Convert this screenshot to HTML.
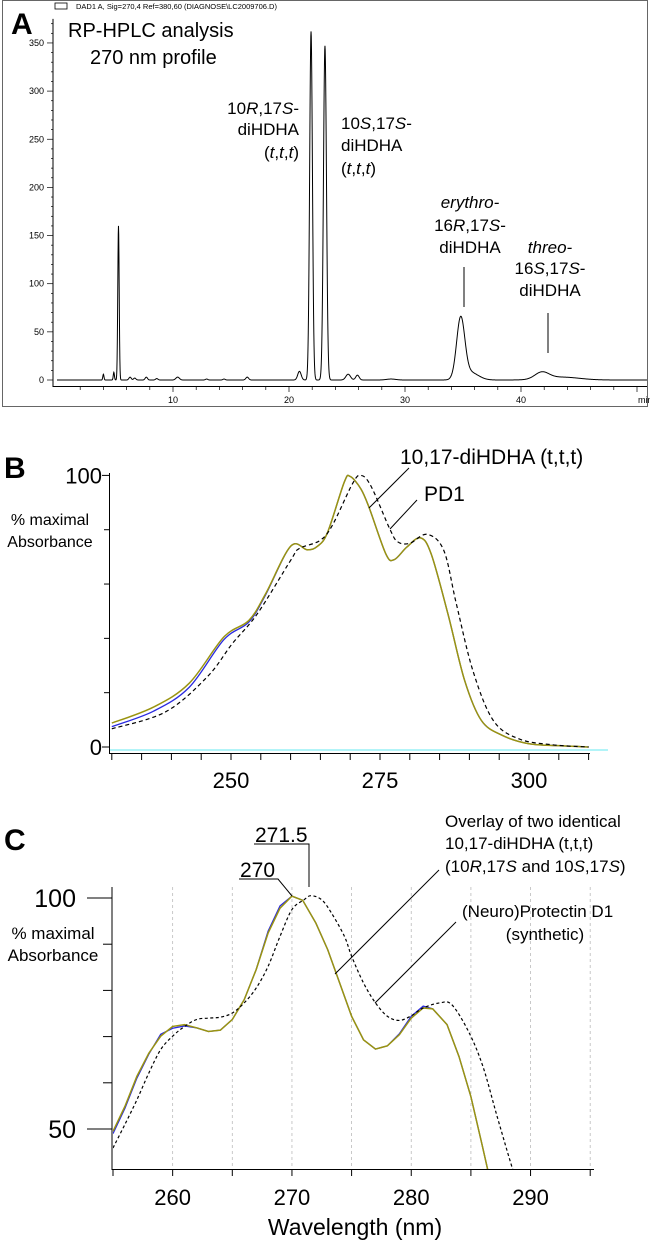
<!DOCTYPE html>
<html><head><meta charset="utf-8">
<style>
html,body{margin:0;padding:0;background:#fff;}
svg{display:block;font-family:"Liberation Sans",sans-serif;}
</style></head>
<body>
<svg id="fig" width="650" height="1241" viewBox="0 0 650 1241" xmlns="http://www.w3.org/2000/svg">
<defs>
<clipPath id="clipC"><rect x="113" y="870" width="500" height="299"/></clipPath>
</defs>
<!-- Panel A -->
<g id="panelA">
<rect x="2.5" y="0.5" width="645" height="406" fill="none" stroke="#666" stroke-width="1"/>
<rect x="55" y="3" width="12" height="6" fill="none" stroke="#000" stroke-width="0.8"/>
<text x="76" y="9" font-size="7.5">DAD1 A, Sig=270,4 Ref=380,60 (DIAGNOSE\LC2009706.D)</text>
<text x="11" y="34" font-size="30" font-weight="bold">A</text>
<text x="68" y="37" font-size="20">RP-HPLC analysis</text>
<text x="90" y="64" font-size="20">270 nm profile</text>
<g id="axA"></g>
<path id="chromA" fill="none" stroke="#000" stroke-width="1"/>
<g font-size="17">
<text x="299" y="114" text-anchor="end">10<tspan font-style="italic">R</tspan>,17<tspan font-style="italic">S</tspan>-</text>
<text x="299" y="135" text-anchor="end">diHDHA</text>
<text x="299" y="158" text-anchor="end">(<tspan font-style="italic">t</tspan>,<tspan font-style="italic">t</tspan>,<tspan font-style="italic">t</tspan>)</text>
<text x="341" y="129">10<tspan font-style="italic">S</tspan>,17<tspan font-style="italic">S</tspan>-</text>
<text x="341" y="151">diHDHA</text>
<text x="341" y="174">(<tspan font-style="italic">t</tspan>,<tspan font-style="italic">t</tspan>,<tspan font-style="italic">t</tspan>)</text>
<text x="470" y="208" text-anchor="middle" font-style="italic">erythro-</text>
<text x="470" y="231" text-anchor="middle">16<tspan font-style="italic">R</tspan>,17<tspan font-style="italic">S</tspan>-</text>
<text x="470" y="253" text-anchor="middle">diHDHA</text>
<text x="550" y="253" text-anchor="middle" font-style="italic">threo-</text>
<text x="550" y="274" text-anchor="middle">16<tspan font-style="italic">S</tspan>,17<tspan font-style="italic">S</tspan>-</text>
<text x="550" y="296" text-anchor="middle">diHDHA</text>
</g>
<line x1="464" y1="267" x2="464" y2="307" stroke="#000"/>
<line x1="548" y1="313" x2="548" y2="353" stroke="#000"/>
</g>

<!-- Panel B -->
<g id="panelB">
<text x="4" y="478" font-size="30" font-weight="bold">B</text>
<text x="50" y="525" font-size="16" text-anchor="middle">% maximal</text>
<text x="50" y="547" font-size="16" text-anchor="middle">Absorbance</text>
<g id="axB"></g>
<path id="bBlue" fill="none" stroke="#2a2ae0" stroke-width="1.3"/>
<path id="bOlive" fill="none" stroke="#9a9410" stroke-width="1.5"/>
<path id="bDash" fill="none" stroke="#000" stroke-width="1.2" stroke-dasharray="4,3"/>
<text x="400" y="464" font-size="21">10,17-diHDHA (t,t,t)</text>
<text x="424" y="501" font-size="21">PD1</text>
<line x1="409" y1="468" x2="369" y2="508" stroke="#000"/>
<line x1="417" y1="500" x2="390" y2="529" stroke="#000"/>
</g>

<!-- Panel C -->
<g id="panelC">
<text x="4" y="850" font-size="30" font-weight="bold">C</text>
<text x="53" y="939" font-size="17" text-anchor="middle">% maximal</text>
<text x="53" y="961" font-size="17" text-anchor="middle">Absorbance</text>
<g id="axC"></g>
<g clip-path="url(#clipC)">
<path id="cBlue" fill="none" stroke="#2a2ae0" stroke-width="1.3"/>
<path id="cOlive" fill="none" stroke="#9a9410" stroke-width="1.5"/>
<path id="cDash" fill="none" stroke="#000" stroke-width="1.2" stroke-dasharray="3,2.5"/>
</g>
<text x="355" y="1235" font-size="23" text-anchor="middle">Wavelength (nm)</text>
<text x="255" y="842" font-size="21">271.5</text>
<polyline points="254,844 309,844 309,887" fill="none" stroke="#000"/>
<text x="240" y="877" font-size="21">270</text>
<polyline points="239,879 278,879 292,896" fill="none" stroke="#000"/>
<g font-size="17">
<text x="445" y="827">Overlay of two identical</text>
<text x="445" y="849">10,17-diHDHA (t,t,t)</text>
<text x="445" y="872">(10<tspan font-style="italic">R</tspan>,17<tspan font-style="italic">S</tspan> and 10<tspan font-style="italic">S</tspan>,17<tspan font-style="italic">S</tspan>)</text>
<text x="462" y="917">(Neuro)Protectin D1</text>
<text x="545" y="940" text-anchor="middle">(synthetic)</text>
</g>
<line x1="439" y1="870" x2="335" y2="974" stroke="#000"/>
<line x1="456" y1="922" x2="375" y2="1003" stroke="#000"/>
</g>
</svg>
<script>
// ---------- Panel A data ----------
const peakTimes   = [4.0,4.9,5.3,6.3,6.7,7.7,8.6,10.4,12.9,14.4,16.4,20.9,21.9,23.1,25.1,25.9,28.8,34.8,35.6,41.8,43.5];
const peakHeights = [6,8,160,3,2,3,1.5,3,1,1,3,9,362,347,6,5,1,62,8,7,3];
const peakWidths  = [0.05,0.05,0.06,0.1,0.1,0.1,0.1,0.15,0.1,0.1,0.12,0.15,0.12,0.13,0.2,0.15,0.4,0.35,0.7,0.6,1.5];
const aTicksY = [0,50,100,150,200,250,300,350];
const aTicksX = [10,20,30,40];
// ---------- Panel B data ----------
const bOliveNm  = [230,237,243,248.8,253,255.8,260,262.8,264.5,266.2,269,270,271.8,273.2,276,277.4,279.5,281.8,283.6,286.4,289.2,292,295.5,300,305,310];
const bOliveVal = [8.8,14.7,23.5,40.5,46.6,56.4,73.9,72.6,73.9,79,97.5,99.6,95,88,71,69,73.6,77,71,49,24.5,9.8,4.3,1.2,0.5,0];
const bBlueVal  = [7.5,13.2,22,39.5,46,56,73.9,72.6,73.9,79,97.5,99.6,95,88,71,69,73.6,77,71,49,24.5,9.8,4.3,1.2,0.5,0];
const bDashNm   = [230,239,246,250.2,254.4,260,261.4,264.9,267,270.4,271.8,273.5,276.7,278,280,282.9,285.7,287.8,290.6,294,298.3,304,310];
const bDashVal  = [6.7,12.9,25.8,38,49,68.7,73,76,81.6,97,100,96,80,75.5,75,78.3,72.4,52.8,28,9.8,3,0.8,0];
const bTicksX = [250,275,300];
// ---------- Panel C data ----------
const cOliveNm  = [255,256,257,258,259,260,261,262,263,264,265,266,267,268,269,270,270.9,272,273,274,275,276,277,278,279,280,281,281.8,283,284,285,285.9,286.4,287];
const cOliveVal = [49.5,54.9,61.4,66.4,70.1,72.2,72.6,71.9,71.1,71.4,73.7,78,84.5,92.4,97.8,100.4,99.5,94.6,88.8,81.6,74.4,69.3,67.3,68,70.4,74,76.2,76,72.6,65.7,57,47,41.3,37];
const cBlueVal  = [49,54.5,61,66.2,70.5,71.8,72.3,71.9,71.1,71.4,73.7,78,84.5,92.8,98.3,100.4,99.5,94.6,88.8,81.6,74.4,69.3,67.3,68,70.6,74.4,76.6,76,72.6,65.7,57,47,41.3,37];
const cDashNm   = [255,256,257,258,259,260,261,262,263,264,265,266,267,268,269,270,271,271.6,272.5,273.3,274.4,275,276,277,278,279,280,281,282.4,283.4,284.8,286,287.2,288.5,289];
const cDashVal  = [45.9,51,56.3,62.1,67.2,70.1,72.2,73.7,74,74.2,75.1,77.3,80.5,85.2,91.7,97.5,99.6,100.5,99.6,96.8,91.7,87.4,81.6,77.3,74.4,73.5,74.5,76.2,77.3,76.9,71.1,63.6,52.7,41.3,38];
const cTicksX = [260,270,280,290];

const NS = "http://www.w3.org/2000/svg";
function mk(parent, tag, attrs, text){
  const el = document.createElementNS(NS, tag);
  for (const k in attrs) el.setAttribute(k, attrs[k]);
  if (text !== undefined) el.textContent = text;
  parent.appendChild(el);
  return el;
}
function pathFrom(xs, ys, sx, sy){
  return xs.map((x,i)=>(i?'L':'M')+sx(x).toFixed(2)+','+sy(ys[i]).toFixed(2)).join('');
}
function smoothFrom(xs, ys, sx, sy){
  const P = xs.map((x,i)=>[sx(x), sy(ys[i])]);
  let d = 'M'+P[0][0].toFixed(2)+','+P[0][1].toFixed(2);
  for (let i=0;i<P.length-1;i++){
    const p0=P[Math.max(0,i-1)], p1=P[i], p2=P[i+1], p3=P[Math.min(P.length-1,i+2)];
    const c1=[p1[0]+(p2[0]-p0[0])/6, p1[1]+(p2[1]-p0[1])/6];
    const c2=[p2[0]-(p3[0]-p1[0])/6, p2[1]-(p3[1]-p1[1])/6];
    d+='C'+c1[0].toFixed(2)+','+c1[1].toFixed(2)+' '+c2[0].toFixed(2)+','+c2[1].toFixed(2)+' '+p2[0].toFixed(2)+','+p2[1].toFixed(2);
  }
  return d;
}

// ---------- Panel A ----------
const axA = (t)=>57 + t*11.6;
const ayA = (v)=>380 - v*0.963;
(function(){
  const g = document.getElementById('axA');
  let l = mk(g,'line',{x1:53,y1:ayA(375),x2:53,y2:387,stroke:'#000','stroke-width':1});
   
  l = mk(g,'line',{x1:53,y1:386.5,x2:647,y2:386.5,stroke:'#000','stroke-width':1});
   
  for (let v=0; v<=370; v+=10){
    mk(g,'line',{x1:v%50===0?47:51,y1:ayA(v),x2:53,y2:ayA(v),stroke:'#000','stroke-width':0.7});
  }
  aTicksY.forEach(v=>{
    const t = mk(g,'text',{x:44,y:ayA(v)+3,'font-size':9,'text-anchor':'end'}, String(v));
     
  });
  for (let m=2; m<=50; m+=2){
    mk(g,'line',{x1:axA(m),y1:387,x2:axA(m),y2:m%10===0?392:390,stroke:'#000','stroke-width':0.7});
  }
  aTicksX.forEach(v=>{
    const t = mk(g,'text',{x:axA(v),y:403,'font-size':9,'text-anchor':'middle'}, String(v));
     
  });
  const mt = mk(g,'text',{x:638,y:403,'font-size':9}, 'min');
   
  const ts=[], vs=[];
  for (let t=0; t<=51; t+=0.02){
    if (axA(t)<54 || axA(t)>647) continue;
    let v=0;
    for (let i=0;i<peakTimes.length;i++){
      const d=(t-peakTimes[i])/peakWidths[i];
      if (Math.abs(d)<8) v+=peakHeights[i]*Math.exp(-0.5*d*d);
    }
    ts.push(t); vs.push(v);
  }
  document.getElementById('chromA').setAttribute('d', pathFrom(ts, vs, axA, ayA));
})();

// ---------- Panel B ----------
const axB = (nm)=>231 + (nm-250)*5.96;
const ayB = (p)=>747 - p*2.716;
(function(){
  const g = document.getElementById('axB');
  let l = mk(g,'line',{x1:109.5,y1:473,x2:109.5,y2:754,stroke:'#000','stroke-width':1});
   
  l = mk(g,'line',{x1:109,y1:753.5,x2:590,y2:753.5,stroke:'#000','stroke-width':1});
   
  const c = mk(g,'line',{x1:110,y1:750,x2:608,y2:750,stroke:'#66e8f0','stroke-width':1});
   
  for (let p=0;p<=100;p+=20) mk(g,'line',{x1:p%100===0?102:104,y1:ayB(p),x2:109,y2:ayB(p),stroke:'#000','stroke-width':1});
  [[100,'100'],[0,'0']].forEach(([p,s])=>{
    const t = mk(g,'text',{x:102,y:ayB(p)+8,'font-size':22,'text-anchor':'end'}, s);
     
  });
  for (let nm=230; nm<=310; nm+=5) mk(g,'line',{x1:axB(nm),y1:754,x2:axB(nm),y2:760,stroke:'#000','stroke-width':1});
  bTicksX.forEach(v=>{
    const t = mk(g,'text',{x:axB(v),y:788,'font-size':22,'text-anchor':'middle'}, String(v));
     
  });
  document.getElementById('bBlue').setAttribute('d', smoothFrom(bOliveNm, bBlueVal, axB, ayB));
  document.getElementById('bOlive').setAttribute('d', smoothFrom(bOliveNm, bOliveVal, axB, ayB));
  document.getElementById('bDash').setAttribute('d', smoothFrom(bDashNm, bDashVal, axB, ayB));
})();

// ---------- Panel C ----------
const axC = (nm)=>113 + (nm-255)*11.93;
const ayC = (p)=>898 + (100-p)*4.62;
(function(){
  const g = document.getElementById('axC');
  for (let nm=260; nm<=295; nm+=5){
    const gl = mk(g,'line',{x1:axC(nm),y1:887,x2:axC(nm),y2:1169,stroke:'#bbb','stroke-width':0.8,'stroke-dasharray':'3,3'});
     
  }
  let l = mk(g,'line',{x1:112,y1:887,x2:112,y2:1170,stroke:'#000','stroke-width':1});
   
  l = mk(g,'line',{x1:112,y1:1169.5,x2:594,y2:1169.5,stroke:'#000','stroke-width':1});
   
  for (let p=50;p<=100;p+=10) mk(g,'line',{x1:(p===50||p===100)?87:103,y1:ayC(p),x2:112,y2:ayC(p),stroke:'#000','stroke-width':1});
  [100,50].forEach(p=>{
    const t = mk(g,'text',{x:76,y:ayC(p)+9,'font-size':25,'text-anchor':'end'}, String(p));
     
  });
  for (let nm=255; nm<=295; nm+=5) mk(g,'line',{x1:axC(nm),y1:1170,x2:axC(nm),y2:1176,stroke:'#000','stroke-width':1});
  cTicksX.forEach(v=>{
    const t = mk(g,'text',{x:axC(v),y:1205,'font-size':22,'text-anchor':'middle'}, String(v));
     
  });
  document.getElementById('cBlue').setAttribute('d', pathFrom(cOliveNm, cBlueVal, axC, ayC));
  document.getElementById('cOlive').setAttribute('d', pathFrom(cOliveNm, cOliveVal, axC, ayC));
  document.getElementById('cDash').setAttribute('d', smoothFrom(cDashNm, cDashVal, axC, ayC));
})();
</script>
</body></html>
